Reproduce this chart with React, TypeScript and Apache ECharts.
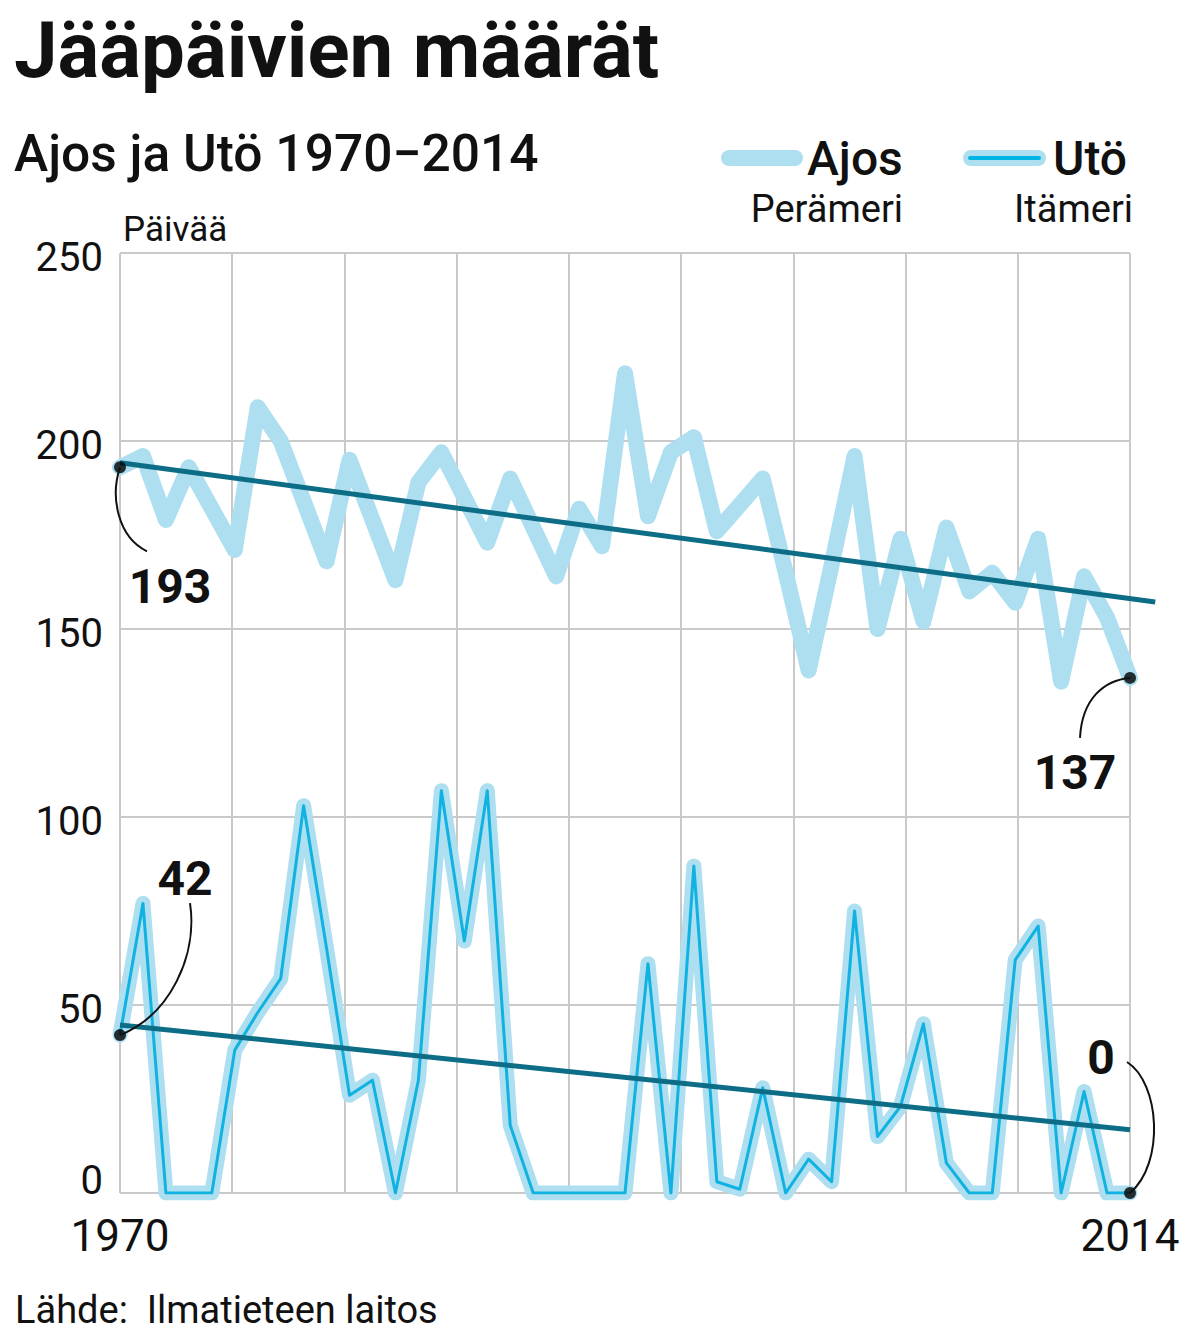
import React, { useEffect, useRef } from "react";
import * as echarts from "echarts";

const years = [
  1970, 1971, 1972, 1973, 1974, 1975, 1976, 1977, 1978, 1979,
  1980, 1981, 1982, 1983, 1984, 1985, 1986, 1987, 1988, 1989,
  1990, 1991, 1992, 1993, 1994, 1995, 1996, 1997, 1998, 1999,
  2000, 2001, 2002, 2003, 2004, 2005, 2006, 2007, 2008, 2009,
  2010, 2011, 2012, 2013, 2014,
];

const ajosDays = [
  193, 196, 179, 193, 182, 171, 209, 200, 184, 168,
  195, 179, 163, 189, 197, 185, 173, 190, 177, 164,
  182, 172, 218, 180, 197, 201, 176, 183, 190, 165,
  139, 167, 196, 150, 174, 152, 177, 160, 165, 157,
  174, 136, 164, 153, 137,
];

const utoDays = [
  42, 77, 0, 0, 0, 38, 48, 57, 103, 65,
  26, 30, 0, 30, 107, 67, 107, 18, 0, 0,
  0, 0, 0, 61, 0, 87, 3, 1, 28, 0,
  9, 3, 75, 15, 23, 45, 8, 0, 0, 62,
  71, 0, 27, 0, 0,
];

const ajosTrend = [
  [1970, 194.2],
  [2015.1, 157.2],
];
const utoTrend = [
  [1970, 44.7],
  [2014, 16.8],
];

const yMin = 0;
const yMax = 250;
const yStep = 50;
const xLabelYears = [1970, 2014];

const endLabels = [
  { year: 1970, value: 193, text: "193" },
  { year: 2014, value: 137, text: "137" },
  { year: 1970, value: 42, text: "42" },
  { year: 2014, value: 0, text: "0" },
];

const LIGHT = "#addff0";
const BRIGHT = "#0fb2e0";
const TREND = "#0d6d86";
const FONT = 'Roboto, "Noto Sans", sans-serif';

export default function App() {
  const ref = useRef<HTMLDivElement>(null);

  useEffect(() => {
    const chart = echarts.init(ref.current as HTMLDivElement, null, { renderer: "svg" });
    const pairs = (vals: number[]) => years.map((y, i) => [y, vals[i]]);

    chart.setOption({
      animation: false,
      grid: { left: 120, right: 69, top: 253, bottom: 147, containLabel: false },
      xAxis: [
        {
          type: "value",
          min: 1970,
          max: 2014,
          axisLine: { show: false },
          axisTick: { show: false },
          splitLine: { show: false },
          axisLabel: {
            customValues: xLabelYears,
            fontSize: 44,
            color: "#111",
            margin: 21,
            fontFamily: FONT,
            formatter: (v: number) => String(v),
          },
        },
        {
          type: "value",
          position: "top",
          min: 0,
          max: 9,
          interval: 1,
          axisLine: { show: false },
          axisTick: { show: false },
          axisLabel: { show: false },
          splitLine: { show: true, lineStyle: { color: "#c9c9c9", width: 2 } },
        },
      ],
      yAxis: {
        type: "value",
        min: yMin,
        max: yMax,
        interval: yStep,
        axisLine: { show: false },
        axisTick: { show: false },
        axisLabel: {
          fontSize: 40,
          color: "#111",
          margin: 17,
          fontFamily: FONT,
          formatter: (v: number) => (v === 0 ? "{z|0}" : "{n|" + v + "}"),
          rich: {
            z: { fontSize: 40, fontFamily: FONT, color: "#111", padding: [0, 0, 26, 0] },
            n: { fontSize: 40, fontFamily: FONT, color: "#111", padding: [8, 0, 0, 0] },
          },
        },
        splitLine: { show: true, lineStyle: { color: "#c9c9c9", width: 2 } },
      },
      series: [
        {
          name: "Ajos",
          type: "line",
          data: pairs(ajosDays),
          symbol: "none",
          lineStyle: { color: LIGHT, width: 16, cap: "round", join: "round" },
          z: 2,
        },
        {
          name: "Utö halo",
          type: "line",
          data: pairs(utoDays),
          symbol: "none",
          lineStyle: { color: LIGHT, width: 15, cap: "round", join: "round" },
          z: 3,
        },
        {
          name: "Utö",
          type: "line",
          data: pairs(utoDays),
          symbol: "none",
          lineStyle: { color: BRIGHT, width: 3, join: "round" },
          z: 4,
        },
        {
          name: "Utö trend",
          type: "line",
          data: utoTrend,
          symbol: "none",
          clip: false,
          lineStyle: { color: TREND, width: 5 },
          z: 5,
        },
        {
          name: "End points",
          type: "scatter",
          data: endLabels.map((e) => [e.year, e.value]),
          symbolSize: 12,
          clip: false,
          itemStyle: { color: "#000" },
          z: 10,
        },
      ],
    });

    const px = (x: number, y: number) =>
      chart.convertToPixel({ xAxisIndex: 0, yAxisIndex: 0 }, [x, y]) as number[];

    const ann = [
      { lbl: [50, 119], c1: [-10, 30], c2: [-2, 70], e: [27, 84] },
      { lbl: [-55, 95], c1: [-25, 2], c2: [-48, 20], e: [-50, 60] },
      { lbl: [65, -157], c1: [50, -20], c2: [78, -80], e: [70, -132] },
      { lbl: [-29, -136], c1: [35, -30], c2: [30, -110], e: [-3, -131] },
    ];

    const annElems: any[] = [];
    endLabels.forEach((e, i) => {
      const [x, y] = px(e.year, e.value);
      const a = ann[i];
      annElems.push({
        type: "bezierCurve",
        shape: {
          x1: x,
          y1: y,
          cpx1: x + a.c1[0],
          cpy1: y + a.c1[1],
          cpx2: x + a.c2[0],
          cpy2: y + a.c2[1],
          x2: x + a.e[0],
          y2: y + a.e[1],
        },
        style: { stroke: "#111", lineWidth: 2, fill: null },
        z: 20,
      });
      annElems.push({
        type: "text",
        x: x + a.lbl[0],
        y: y + a.lbl[1],
        style: {
          text: e.text,
          fontSize: 48,
          fontWeight: "bold",
          fontFamily: FONT,
          fill: "#111",
          textAlign: "center",
          textVerticalAlign: "middle",
        },
        z: 20,
      });
    });

    const t0 = px(ajosTrend[0][0], ajosTrend[0][1]);
    const t1 = px(ajosTrend[1][0], ajosTrend[1][1]);
    const trendElem = {
      type: "line",
      shape: { x1: t0[0], y1: t0[1], x2: t1[0], y2: t1[1] },
      style: { stroke: TREND, lineWidth: 5 },
      z: 5,
    };

    const txt = (text: string, x: number, y: number, size: number, weight: string, align: string) => ({
      type: "text",
      x,
      y,
      style: {
        text,
        fontSize: size,
        fontWeight: weight,
        fontFamily: FONT,
        fill: "#111",
        textAlign: align,
        textVerticalAlign: "middle",
      },
    });

    chart.setOption({
      graphic: [
        trendElem,
        txt("Jääpäivien määrät", 14, 50, 78, "bold", "left"),
        txt("Ajos ja Utö 1970\u22122014", 14, 153, 51.5, "500", "left"),
        txt("Päivää", 123, 229, 35, "normal", "left"),
        txt("Lähde:  Ilmatieteen laitos", 15, 1310, 38, "normal", "left"),
        {
          type: "line",
          shape: { x1: 729, y1: 158, x2: 795, y2: 158 },
          style: { stroke: LIGHT, lineWidth: 16, lineCap: "round" },
        },
        txt("Ajos", 807, 158, 48, "500", "left"),
        txt("Perämeri", 903, 209, 38, "normal", "right"),
        {
          type: "line",
          shape: { x1: 971, y1: 158, x2: 1038, y2: 158 },
          style: { stroke: LIGHT, lineWidth: 16, lineCap: "round" },
        },
        {
          type: "line",
          shape: { x1: 970, y1: 158, x2: 1039, y2: 158 },
          style: { stroke: "#00b4e4", lineWidth: 4, lineCap: "round" },
        },
        txt("Utö", 1053, 158, 48, "500", "left"),
        txt("Itämeri", 1133, 209, 38, "normal", "right"),
        ...annElems,
      ],
    });

    return () => chart.dispose();
  }, []);

  return (
    <div
      ref={ref}
      style={{ position: "absolute", left: 0, top: 0, width: 1199, height: 1340, background: "#fff" }}
    />
  );
}
